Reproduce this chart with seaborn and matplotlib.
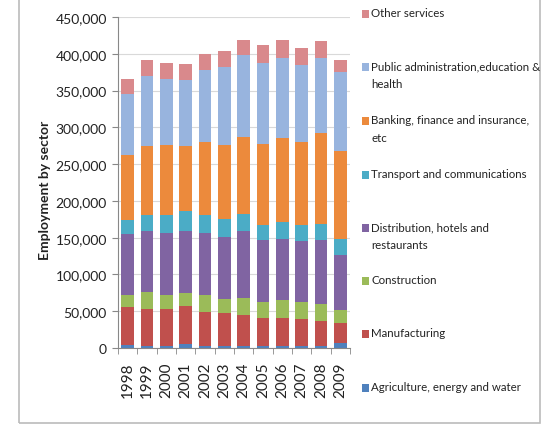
import numpy as np
import pandas as pd
import matplotlib.pyplot as plt
import seaborn as sns
from matplotlib.patches import Rectangle

years = ['1998', '1999', '2000', '2001', '2002', '2003', '2004', '2005', '2006', '2007', '2008', '2009']

sectors = ['Agriculture, energy and water', 'Manufacturing', 'Construction',
           'Distribution, hotels and\nrestaurants', 'Transport and communications',
           'Banking, finance and insurance,\netc', 'Public administration,education &\nhealth',
           'Other services']

agriculture = [4000, 3000, 3000, 6000, 3000, 3000, 3000, 3000, 3000, 3000, 3000, 7000]
manufacturing = [51800, 50500, 49600, 50700, 46400, 44200, 41400, 37800, 37800, 36000, 34200, 27500]
construction = [16800, 22700, 19100, 18600, 22300, 19500, 23600, 21800, 24500, 24000, 22200, 17700]
distribution = [82400, 82500, 84800, 84300, 84800, 84800, 90700, 84400, 83400, 82000, 88000, 74800]
transport = [19000, 21800, 24900, 26800, 24900, 23500, 24100, 20800, 22300, 22000, 21300, 21700]
banking = [88500, 94200, 94200, 88300, 99200, 100600, 104600, 109700, 114100, 113600, 123200, 118800]
public = [82700, 95300, 89900, 89000, 98000, 106600, 110600, 110600, 109300, 104800, 102500, 108000]
other = [20300, 21700, 22200, 22100, 21300, 22200, 21300, 23900, 24000, 22600, 22600, 16200]

colors = ['#4f81bd', '#c0504d', '#9bbb59', '#8064a2', '#4bacc6', '#ec8a3c', '#98b4de', '#d9898c']

series = [agriculture, manufacturing, construction, distribution, transport, banking, public, other]
cum = np.cumsum(np.array(series), axis=0)

sns.set_style("white")
plt.rcParams['font.family'] = ['Lato', 'DejaVu Sans']

fig = plt.figure(figsize=(5.43, 4.27), dpi=100)
ax = fig.add_axes([118 / 543, 1 - 349 / 427, 232 / 543, 331 / 427])

# stacked bars: draw cumulative totals from the top down
for i in range(len(series) - 1, -1, -1):
    df = pd.DataFrame({'year': years, 'value': cum[i]})
    sns.barplot(data=df, x='year', y='value', color=colors[i], width=0.65,
                saturation=1, linewidth=0, ax=ax, zorder=2)

ax.set_ylim(0, 450000)
ax.set_yticks(range(0, 450001, 50000))
ax.set_yticklabels([f'{v:,}' for v in range(0, 450001, 50000)], fontsize=10, color='#222222')
ax.set_xticks(range(len(years)))
ax.set_xticklabels(years, rotation=90, fontsize=11, color='#222222')
ax.set_xticks(np.arange(-0.5, len(years), 1), minor=True)
ax.tick_params(axis='x', which='major', length=0, pad=10)
ax.tick_params(axis='x', which='minor', length=4, color='#888888', direction='out', bottom=True)
ax.tick_params(axis='y', length=4, color='#888888', direction='out', left=True, pad=4)
ax.set_xlim(-0.5, len(years) - 0.5)
ax.yaxis.grid(True, color='#d9d9d9', linewidth=0.8, zorder=0)
ax.set_axisbelow(True)
ax.set_xlabel('')
ax.set_ylabel('')
for s in ['top', 'right']:
    ax.spines[s].set_visible(False)
ax.spines['left'].set_color('#888888')
ax.spines['bottom'].set_color('#888888')

fig.text(45 / 543, 1 - 190 / 427, 'Employment by sector', rotation=90, fontsize=10,
         fontweight='bold', ha='center', va='center', color='#222222')

# legend on the right, evenly spaced slots like the original
slot_tops = [389, 335, 282, 229, 176, 122, 68, 15]
for i, name in enumerate(sectors):
    yc = 1 - slot_tops[i] / 427
    fig.patches.append(Rectangle((362 / 543, yc - 4 / 427), 7 / 543, 8 / 427,
                                 transform=fig.transFigure, facecolor=colors[i],
                                 edgecolor='none'))
    fig.text(371 / 543, yc + 7 / 427, name, fontsize=8.3, ha='left', va='top',
             color='#222222', linespacing=1.75)

# outer frame
fig.patches.append(Rectangle((19 / 543, 1 - 424 / 427), 521 / 543, 440 / 427,
                             transform=fig.transFigure, fill=False,
                             edgecolor='#bbbbbb', linewidth=1.2))

fig.savefig('out.png', dpi=100)
